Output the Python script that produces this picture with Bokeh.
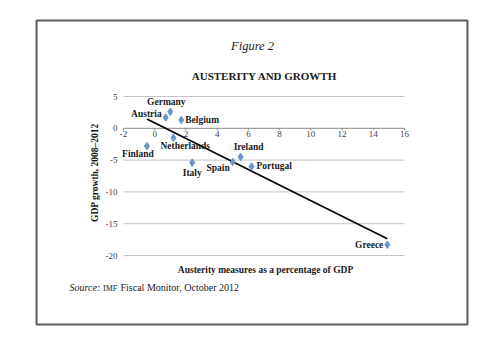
import numpy as np
from bokeh.plotting import figure
from bokeh.models import Range1d, Label, BoxAnnotation
from bokeh.core.properties import value
from bokeh.embed import file_html
from bokeh.resources import INLINE

# ---- data ----
countries = ["Germany", "Austria", "Belgium", "Netherlands", "Finland",
             "Italy", "Spain", "Ireland", "Portugal", "Greece"]
austerity = [1.0, 0.7, 1.7, 1.2, -0.5, 2.4, 5.0, 5.5, 6.2, 14.9]
growth = [2.6, 1.7, 1.3, -1.5, -2.8, -5.4, -5.3, -4.5, -6.0, -18.3]

x_ticks = [-2, 0, 2, 4, 6, 8, 10, 12, 14, 16]
x_tick_labels = ["-2", "0", "2", "4", "6", "8", "10", "12", "14", "16"]
y_ticks = [-20, -15, -10, -5, 0, 5]
y_tick_labels = ["-20", "-15", "-10", "-5", "0", "5"]

# label placement (style): align, dx, dy (screen px, dy down)
label_style = {
    "Germany": ("center", -4, -10),
    "Austria": ("right", -4, -3),
    "Belgium": ("left", 4, 0),
    "Netherlands": ("left", -13, 8),
    "Finland": ("center", -9, 8),
    "Italy": ("center", 0, 10),
    "Spain": ("right", -3, 6),
    "Ireland": ("center", 8, -10),
    "Portugal": ("left", 5, 0),
    "Greece": ("right", -4, 0),
}

FONT = "Liberation Serif"
W, H = 496, 344
PL, PR, PT, PB = 123, 404, 96, 255  # plot area edges in canvas px
X0, X1 = x_ticks[0], x_ticks[-1]
Y0, Y1 = y_ticks[0], y_ticks[-1]
kx = (X1 - X0) / (PR - PL)
ky = (Y1 - Y0) / (PB - PT)

p = figure(width=W, height=H,
           x_range=Range1d(X0 - PL * kx, X1 + (W - PR) * kx),
           y_range=Range1d(Y0 - (H - PB) * ky, Y1 + PT * ky),
           x_axis_type=None, y_axis_type=None,
           output_backend="svg", toolbar_location=None, min_border=0)
p.outline_line_color = None
p.grid.visible = False
p.background_fill_color = "white"
p.border_fill_color = "white"

# horizontal gridlines
grid_y = [t for t in y_ticks if t != 0]
p.segment(x0=[X0] * len(grid_y), y0=grid_y, x1=[X1] * len(grid_y), y1=grid_y,
          line_color="#c4c4c4", line_width=1)

# x axis at y = 0, with small tick marks
p.segment(x0=[X0], y0=[0], x1=[X1], y1=[0], line_color="#8a8a8a", line_width=1)
p.segment(x0=x_ticks, y0=[0] * len(x_ticks), x1=x_ticks,
          y1=[-2 * ky] * len(x_ticks), line_color="#8a8a8a", line_width=1)
p.text(x=x_ticks, y=[0] * len(x_ticks), text=x_tick_labels, y_offset=3,
       text_align="center", text_baseline="top", text_font=value(FONT),
       text_font_size="9px", text_color="#404040")
# y tick labels
p.text(x=[X0] * len(y_ticks), y=y_ticks, text=y_tick_labels, x_offset=-6,
       text_align="right", text_baseline="middle", text_font=value(FONT),
       text_font_size="9px", text_color="#404040")

# trend line (least squares from the data)
slope, intercept = np.polyfit(austerity, growth, 1)
tx = [min(austerity), max(austerity)]
ty = [slope * v + intercept for v in tx]
p.line(tx, ty, line_color="black", line_width=1.6)

# points
p.scatter(austerity, growth, marker="diamond", size=7.5,
          fill_color="#6a93c6", line_color="#6a93c6")

for c, xv, yv in zip(countries, austerity, growth):
    align, dx, dy = label_style[c]
    p.add_layout(Label(x=xv, y=yv, text=c, x_offset=dx, y_offset=-dy,
                       text_align=align, text_baseline="middle",
                       text_font=FONT, text_font_size="9.5px",
                       text_font_style="bold", text_color="#1a1a1a"))


def scr_label(cx, cy, text, size, style="normal", align="center", angle=0.0):
    p.add_layout(Label(x=cx, y=H - cy, x_units="screen", y_units="screen",
                       text=text, text_font=FONT, text_font_size=size,
                       text_font_style=style, text_align=align,
                       text_baseline="middle", angle=angle,
                       text_color="#1a1a1a"))


scr_label(252, 45, "Figure 2", "12.5px", "italic")
scr_label(264, 75, "AUSTERITY AND GROWTH", "11px", "bold")
scr_label(265, 269, "Austerity measures as a percentage of GDP", "9.5px", "bold")
scr_label(94, 172, "GDP growth, 2008\u20132012", "9.5px", "bold", angle=np.pi / 2)
scr_label(69, 287, "Source:", "10px", "italic", align="left")
scr_label(102.5, 287.5, "IMF", "8px", align="left")
scr_label(120, 287, "Fiscal Monitor, October 2012", "10px", align="left")

p.add_layout(BoxAnnotation(left=36, right=467, top=H - 20, bottom=H - 324,
                           left_units="screen", right_units="screen",
                           top_units="screen", bottom_units="screen",
                           fill_alpha=0, line_color="#5c5c5c", line_alpha=1.0,
                           line_width=2))

open("out.html", "w").write(file_html(p, INLINE))
